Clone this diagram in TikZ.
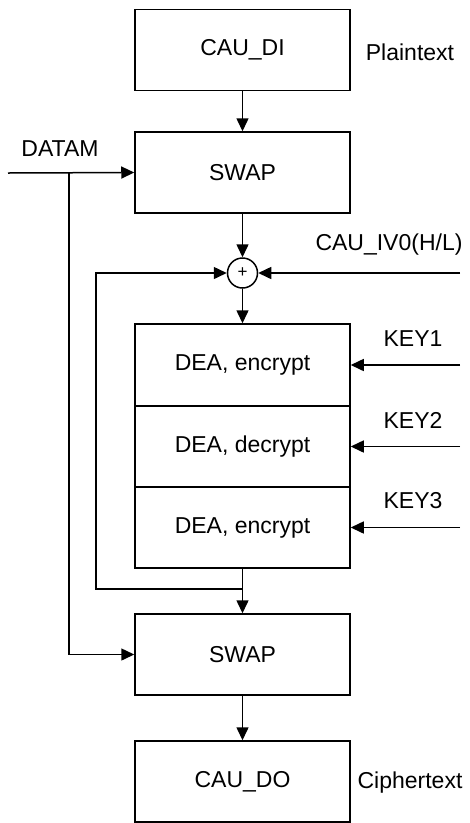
\documentclass[tikz,border=0pt]{standalone}
\usepackage{fontspec}
\setmainfont{Liberation Sans}
\usetikzlibrary{positioning, arrows.meta}

\begin{document}
\begin{tikzpicture}[
    x=1pt, y=-1pt,
    >={Triangle[length=13pt,width=12pt]},
    every path/.style={line width=1.5pt},
    block/.style={
        draw, rectangle, minimum width=215pt, minimum height=81pt,
        inner sep=0pt, fill=white, font=\fontsize{23}{27}\selectfont
    },
    label/.style={font=\fontsize{23}{27}\selectfont, inner sep=0pt},
    adder/.style={
        draw, circle, minimum size=30pt, inner sep=0pt,
        font=\fontsize{17}{19}\selectfont
    }
]

\useasboundingbox (0,0) rectangle (470,823);

% -------------------------
% Blocks
% -------------------------
\node[block] (DI) at (242.5, 50) {CAU\_DI};
\node[block] (SwapIn) at (242.5, 172.5) {SWAP};
\node[adder] (Xor) at (242.5, 273) {+};
\node[block, minimum height=82pt] (Enc1) at (242.5, 365) {DEA, encrypt};
\node[block] (Dec) at (242.5, 446.5) {DEA, decrypt};
\node[block] (Enc2) at (242.5, 527.5) {DEA, encrypt};
\node[block] (SwapOut) at (242.5, 654.5) {SWAP};
\node[block] (DO) at (242.5, 781.5) {CAU\_DO};

% -------------------------
% Labels
% -------------------------
\node[label] (Plain) at (410, 52) {Plaintext};
\node[label] (Cipher) at (410, 783) {Ciphertext};
\node[label] (Datam) at (60, 149) {DATAM};
\node[label] (IvLabel) at (389, 245) {CAU\_IV0(H/L)};
\node[label] (Key1) at (413, 339) {KEY1};
\node[label] (Key2) at (413, 420) {KEY2};
\node[label] (Key3) at (413, 501) {KEY3};

% -------------------------
% Free ends and corners
% -------------------------
\coordinate (DatamIn) at (8, 173);
\coordinate (DatamTap) at (69, 173);
\coordinate (IvIn) at (460, 273);
\coordinate (Key1In) at (460, 365);
\coordinate (Key2In) at (460, 446.5);
\coordinate (Key3In) at (460, 527.5);
\coordinate (Split) at (242.5, 589);
\coordinate (Back) at (96, 589);

% -------------------------
% Connections
% -------------------------
\draw[->] (DI) -- (SwapIn);
\draw[->] (SwapIn) -- (Xor);
\draw[->] (Xor) -- (Enc1);
\draw[->] (IvIn) -- (Xor);

% keys
\draw[->] (Key1In) -- (Enc1.east);
\draw[->] (Key2In) -- (Dec.east);
\draw[->] (Key3In) -- (Enc2.east);

% output and feedback
\draw[->] (Enc2) -- (SwapOut);
\draw[->] (Split) -- (Back) |- (Xor.west);
\draw[->] (SwapOut) -- (DO);

% DATAM
\draw[->] (DatamIn) -- (SwapIn.west);
\draw[->] (DatamTap) |- (SwapOut.west);

\end{tikzpicture}
\end{document}
